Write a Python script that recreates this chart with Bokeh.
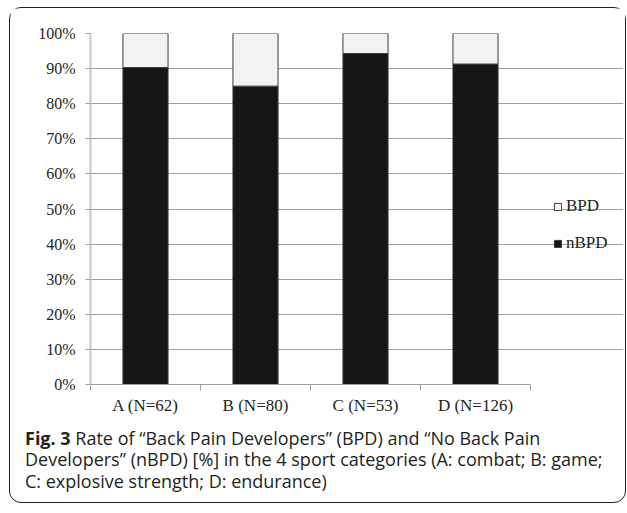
from bokeh.plotting import figure
from bokeh.models import (ColumnDataSource, FixedTicker, NumeralTickFormatter, Legend,
                          LegendItem, Range1d, Div)
from bokeh.layouts import column
from bokeh.embed import file_html
from bokeh.resources import INLINE

categories = ["A (N=62)", "B (N=80)", "C (N=53)", "D (N=126)"]
nbpd = [0.903, 0.85, 0.943, 0.913]
bpd = [0.097, 0.15, 0.057, 0.087]
series = ["nBPD", "BPD"]
y_ticks = [0, 0.1, 0.2, 0.3, 0.4, 0.5, 0.6, 0.7, 0.8, 0.9, 1.0]

n = len(categories)
x = [i + 0.5 for i in range(n)]
source = ColumnDataSource(dict(x=x, nBPD=nbpd, BPD=bpd))

SERIF = "Liberation Serif"

# frame is 533 px wide; the plotting area (0..n) takes 440 px, the rest hosts the legend
x_end = n * 533 / 440
p = figure(width=615, height=410, output_backend="svg", toolbar_location=None,
           x_range=Range1d(0, x_end), y_range=Range1d(0, 1),
           min_border_left=80, min_border_right=2, min_border_top=25, min_border_bottom=34)
p.outline_line_color = None

rs = p.vbar_stack(series, x="x", width=0.41, source=source,
                  fill_color=["#161616", "#f2f2f2"], line_color=["#3a3a3a", "#3a3a3a"],
                  line_width=1)

# axes
p.xaxis.bounds = (0, n)
p.xaxis.ticker = FixedTicker(ticks=x, minor_ticks=list(range(n + 1)))
p.xaxis.major_label_overrides = {xi: c for xi, c in zip(x, categories)}
p.xaxis.major_tick_out = 0
p.xaxis.major_tick_in = 0
p.xaxis.minor_tick_out = 6
p.xaxis.minor_tick_in = 0
p.xaxis.minor_tick_line_color = "#a0a0a0"
p.xaxis.axis_line_color = "#a0a0a0"
p.xaxis.major_label_standoff = 5
p.xaxis.major_label_text_font = SERIF
p.xaxis.major_label_text_font_size = "17px"
p.xaxis.major_label_text_color = "#231f20"

p.yaxis.ticker = FixedTicker(ticks=y_ticks)
p.yaxis.formatter = NumeralTickFormatter(format="0%")
p.yaxis.major_tick_out = 5
p.yaxis.major_tick_in = 0
p.yaxis.minor_tick_line_color = None
p.yaxis.major_tick_line_color = "#a0a0a0"
p.yaxis.axis_line_color = "#c8c8c8"
p.yaxis.axis_line_width = 2
p.yaxis.major_label_standoff = 10
p.yaxis.major_label_text_font = SERIF
p.yaxis.major_label_text_font_size = "16px"
p.yaxis.major_label_text_color = "#231f20"

p.xgrid.grid_line_color = None
p.ygrid.ticker = FixedTicker(ticks=y_ticks)
p.ygrid.bounds = (0, n)
p.ygrid.grid_line_color = "#a0a0a0"
p.ygrid.grid_line_width = 1

legend = Legend(items=[LegendItem(label="BPD", renderers=[rs[1]]),
                       LegendItem(label="nBPD", renderers=[rs[0]])],
                location=(463, 131), orientation="vertical")
legend.margin = 0
legend.padding = 0
legend.border_line_color = None
legend.background_fill_alpha = 0
legend.glyph_width = 9
legend.glyph_height = 9
legend.label_standoff = 4
legend.spacing = 17
legend.label_height = 20
legend.label_text_font = SERIF
legend.label_text_font_size = "17px"
legend.label_text_color = "#231f20"
p.add_layout(legend, "center")

caption = Div(
    text=("<b>Fig. 3</b> Rate of \u201cBack Pain Developers\u201d (BPD) and \u201cNo Back Pain<br>"
          "Developers\u201d (nBPD) [%] in the 4 sport categories (A: combat; B: game;<br>"
          "C: explosive strength; D: endurance)"),
    width=600, height=74,
    styles={"font-family": "Open Sans", "font-size": "18px", "line-height": "21.7px",
            "color": "#231f20", "padding-left": "10px", "padding-top": "4.5px"})

layout = column(p, caption, spacing=0,
                styles={"border": "1.5px solid #231f20", "border-radius": "12px",
                        "margin-left": "9px", "margin-top": "7px"})

open("out.html", "w").write(file_html(layout, INLINE))
